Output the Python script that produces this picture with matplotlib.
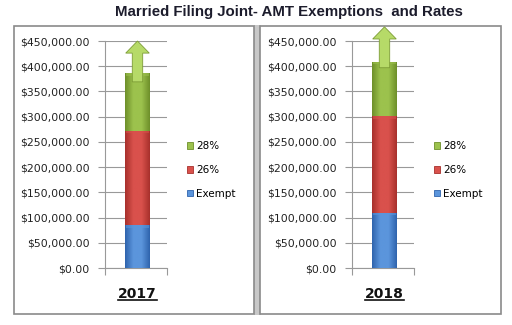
import matplotlib
matplotlib.use("Agg")
import matplotlib.pyplot as plt
import numpy as np
from matplotlib.patches import Rectangle
from matplotlib.lines import Line2D
from matplotlib.ticker import FuncFormatter

# data
years = ["2017", "2018"]
exempt = [84500, 109400]
rate26 = [187800, 191100]
rate28 = [113700, 108500]
arrow_start = [369000, 397000]
arrow_end = [450000, 478000]
series_names = ["Exempt", "26%", "28%"]
title = "Married Filing Joint- AMT Exemptions  and Rates"

colors = {"Exempt": ("#2f64ad", "#5b95dc"),
          "26%": ("#a8302c", "#d9514c"),
          "28%": ("#6e8f2a", "#9cc24d")}

W, H = 512, 325
fig = plt.figure(figsize=(W / 100, H / 100), dpi=100)


def fx(px):
    return px / W


def fy(py):
    return 1 - py / H


def grad_bar(ax, x, bottom, height, name, width=1.0):
    dark, light = colors[name]
    bar = ax.bar(x, height, width=width, bottom=bottom, color=light,
                 edgecolor="none", zorder=3)[0]
    cmap = matplotlib.colors.LinearSegmentedColormap.from_list(
        "g", [dark, light, light, dark])
    grad = np.linspace(0, 1, 64).reshape(1, -1)
    im = ax.imshow(grad, cmap=cmap, aspect="auto", zorder=4,
                   extent=(x - width / 2, x + width / 2, bottom, bottom + height))
    im.set_clip_path(bar)
    # bevel on top of each segment
    cap = 5000
    ax.bar(x, cap, width=width * 0.9, bottom=bottom + height - cap,
           color=light, alpha=0.55, edgecolor="none", zorder=5)
    return bar


# panel frames and separator (behind the axes)
fig.add_artist(Rectangle((fx(254), fy(315)), fx(7), fy(25) - fy(315),
                         transform=fig.transFigure, facecolor="#c8c8c8",
                         edgecolor="none", zorder=-3))
for x0, x1 in [(14, 254), (260, 501)]:
    fig.add_artist(Rectangle((fx(x0), fy(314)), fx(x1 - x0), fy(26) - fy(314),
                             transform=fig.transFigure, facecolor="white",
                             edgecolor="#8a8a8a", lw=1.2, zorder=-2))

fig.text(fx(289), fy(12), title, ha="center", va="center",
         fontsize=10.8, fontweight="bold", family="Liberation Sans",
         color="#1c1c2c")

axes_left = [105, 352]
legend_left = [187, 434]
for i, year in enumerate(years):
    ax = fig.add_axes([fx(axes_left[i]), fy(268), fx(62), fy(41) - fy(268)])
    ax.set_ylim(0, 450000)
    ax.set_xlim(-1.31, 1.19)
    ax.set_yticks(np.arange(0, 450001, 50000))
    ax.yaxis.set_major_formatter(FuncFormatter(lambda v, p: "${:,.2f}".format(v)))
    ax.tick_params(axis="y", labelsize=7.8, length=5, color="#999999",
                   pad=6, labelcolor="#222222")
    ax.set_xticks([-1.31, 1.19])
    ax.set_xticklabels([])
    ax.tick_params(axis="x", length=5, color="#999999")
    ax.grid(axis="y", color="#999999", lw=0.8, zorder=0)
    ax.set_axisbelow(True)
    for s in ["top", "right"]:
        ax.spines[s].set_visible(False)
    for s in ["left", "bottom"]:
        ax.spines[s].set_color("#999999")
    ax.patch.set_alpha(0)

    grad_bar(ax, 0, 0, exempt[i], "Exempt")
    grad_bar(ax, 0, exempt[i], rate26[i], "26%")
    grad_bar(ax, 0, exempt[i] + rate26[i], rate28[i], "28%")

    ax.arrow(0, arrow_start[i], 0, arrow_end[i] - arrow_start[i],
             width=0.42, head_width=0.95, head_length=24000,
             length_includes_head=True, facecolor="#b6da68",
             edgecolor="#7c9c35", lw=0.6, zorder=6, clip_on=False)

    handles = [Rectangle((0, 0), 1, 1, facecolor=colors[n][1],
                         edgecolor=colors[n][0], lw=0.6)
               for n in reversed(series_names)]
    fig.legend(handles, list(reversed(series_names)), loc="center left",
               bbox_to_anchor=(fx(legend_left[i]), fy(170)), frameon=False,
               fontsize=7.5, handlelength=0.6, handleheight=0.6,
               handletextpad=0.25, labelspacing=1.3, borderpad=0,
               borderaxespad=0)

    cx = axes_left[i] + 62 * 1.31 / 2.5
    fig.text(fx(cx), fy(298), year, ha="center", va="baseline",
             fontsize=10, fontweight="bold", color="#111111")
    fig.add_artist(Line2D([fx(cx - 19.5), fx(cx + 19.5)], [fy(300), fy(300)],
                          transform=fig.transFigure, color="#111111", lw=1.2))

fig.savefig("out.png", dpi=100)
